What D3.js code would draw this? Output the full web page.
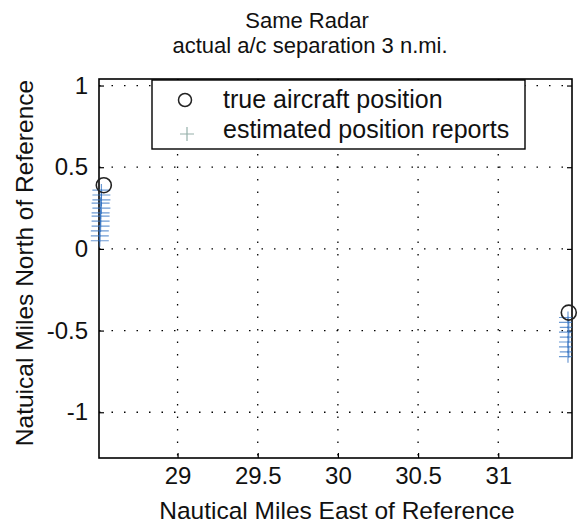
<!DOCTYPE html>
<meta charset="utf-8">
<style>
    body { margin: 0; background: #fff; }
    svg { font-family: "Liberation Sans", Arial, Helvetica, sans-serif; }
    .grid line { stroke: #000; stroke-width: 1.3; stroke-dasharray: 1.5,11; }
</style>
<body>
<script src="https://cdn.jsdelivr.net/npm/d3@7"></script>
<script>

    // axis limits and ticks
    var xLimits = [28.51, 31.46],
        yLimits = [-1.28, 1.04];
    var xTicks = [29, 29.5, 30, 30.5, 31],
        yTicks = [-1, -0.5, 0, 0.5, 1];

    // true positions of the two aircraft
    var trueX = [28.54, 31.44],
        trueY = [0.39, -0.39];

    // radar position reports, aircraft 1 then aircraft 2
    var estX = [28.525, 28.525, 28.525, 28.52, 28.525, 28.52, 28.52, 28.52, 28.52, 28.515, 28.515, 28.515,
                31.435, 31.435, 31.44, 31.435, 31.44, 31.435, 31.435, 31.44, 31.435];
    var estY = [0.36, 0.33, 0.30, 0.28, 0.25, 0.22, 0.20, 0.17, 0.14, 0.11, 0.08, 0.05,
                -0.42, -0.45, -0.48, -0.51, -0.54, -0.57, -0.60, -0.63, -0.66];

    var legendLabels = ["true aircraft position", "estimated position reports"];

    var width = 578,
        height = 526,
        margin = {top: 79, right: 6, bottom: 68, left: 99};

    var svg = d3.select("body").append("svg")
        .attr("width", width)
        .attr("height", height);

    var defs = svg.append("defs");
    defs.append("filter").attr("id", "soft")
        .attr("x", "-50%").attr("y", "-50%").attr("width", "200%").attr("height", "200%")
        .append("feGaussianBlur").attr("stdDeviation", 0.45);

    var x = d3.scaleLinear().domain(xLimits).range([margin.left, width - margin.right]);
    var y = d3.scaleLinear().domain(yLimits).range([height - margin.bottom, margin.top]);

    var x0 = x.range()[0], x1 = x.range()[1],
        y0 = y.range()[0], y1 = y.range()[1];

    // dotted grid
    var grid = svg.append("g").attr("class", "grid");
    grid.selectAll(".gx").data(xTicks).enter().append("line")
        .attr("x1", d => x(d)).attr("x2", d => x(d))
        .attr("y1", y1).attr("y2", y0);
    grid.selectAll(".gy").data(yTicks).enter().append("line")
        .attr("x1", x0).attr("x2", x1)
        .attr("y1", d => y(d)).attr("y2", d => y(d));

    // axes with inward ticks on all four sides; plain hyphen for negatives
    var tick = 5;
    var fmt = d => String(d);
    svg.append("g").attr("class", "xb").attr("transform", "translate(0," + y0 + ")")
        .call(d3.axisBottom(x).tickValues(xTicks).tickSize(-tick).tickFormat(fmt))
        .call(g => g.select(".domain").remove());
    svg.append("g").attr("transform", "translate(0," + y1 + ")")
        .call(d3.axisTop(x).tickValues(xTicks).tickSize(-tick).tickFormat(""))
        .call(g => g.select(".domain").remove());
    svg.append("g").attr("class", "yl").attr("transform", "translate(" + x0 + ",0)")
        .call(d3.axisLeft(y).tickValues(yTicks).tickSize(-tick).tickFormat(fmt))
        .call(g => g.select(".domain").remove());
    svg.append("g").attr("transform", "translate(" + x1 + ",0)")
        .call(d3.axisRight(y).tickValues(yTicks).tickSize(-tick).tickFormat(""))
        .call(g => g.select(".domain").remove());

    svg.selectAll(".tick line").attr("stroke", "#000").attr("stroke-width", 1.2);
    svg.selectAll(".tick text")
        .attr("fill", "#111")
        .style("font-size", "24px")
        .style("font-family", "'Liberation Sans', Arial, sans-serif");
    svg.selectAll(".xb .tick text").attr("y", 9);
    svg.selectAll(".yl .tick text").attr("x", -11);

    // frame
    svg.append("rect")
        .attr("x", x0).attr("y", y1)
        .attr("width", x1 - x0).attr("height", y0 - y1)
        .attr("fill", "none").attr("stroke", "#000").attr("stroke-width", 1.6);

    svg.append("clipPath").attr("id", "plotclip")
        .append("rect").attr("x", x0 - 20).attr("y", y1).attr("width", x1 - x0 + 20).attr("height", y0 - y1);

    // position reports drawn as '+' markers
    var est = d3.range(estX.length).map(i => ({x: estX[i], y: estY[i]}));
    var mw = 9, mh = 6;
    var crosses = svg.append("g").attr("clip-path", "url(#plotclip)")
        .append("g").attr("filter", "url(#soft)")
        .attr("stroke", "#2f6fc0").attr("stroke-opacity", 0.7).attr("stroke-width", 1.2);
    crosses.selectAll("path").data(est).enter().append("path")
        .attr("d", d => "M" + (x(d.x) - mw) + "," + y(d.y) + "h" + (2 * mw) +
                        "M" + x(d.x) + "," + (y(d.y) - mh) + "v" + (2 * mh));

    // true positions as open circles
    svg.append("g").selectAll("circle").data(trueX).enter().append("circle")
        .attr("cx", d => x(d)).attr("cy", (d, i) => y(trueY[i]))
        .attr("r", 7.5)
        .attr("fill", "none").attr("stroke", "#222").attr("stroke-width", 1.6);

    // legend
    var lg = svg.append("g");
    lg.append("rect")
        .attr("x", 152).attr("y", 80).attr("width", 373).attr("height", 69)
        .attr("fill", "#fff").attr("stroke", "#000").attr("stroke-width", 1.4);
    lg.append("circle").attr("cx", 185).attr("cy", 100).attr("r", 6.5)
        .attr("fill", "none").attr("stroke", "#222").attr("stroke-width", 1.5);
    lg.append("path").attr("d", "M180,134h14M187,127v14")
        .attr("stroke", "#7a9c95").attr("stroke-opacity", 0.8).attr("stroke-width", 1.2);
    lg.selectAll("text").data(legendLabels).enter().append("text")
        .attr("x", 223).attr("y", (d, i) => 108 + i * 30)
        .style("font-size", "25px").attr("fill", "#111")
        .text(d => d);

    // titles and axis labels
    svg.append("text").attr("x", 307).attr("y", 28).attr("text-anchor", "middle")
        .style("font-size", "22px").attr("fill", "#111").text("Same Radar");
    svg.append("text").attr("x", 310).attr("y", 53).attr("text-anchor", "middle")
        .style("font-size", "22px").attr("fill", "#111").text("actual a/c separation 3 n.mi.");
    svg.append("text").attr("x", 337).attr("y", 519).attr("text-anchor", "middle")
        .style("font-size", "24.5px").attr("fill", "#111").text("Nautical Miles East of Reference");
    svg.append("text").attr("transform", "translate(33,263) rotate(-90)").attr("text-anchor", "middle")
        .style("font-size", "24.5px").attr("fill", "#111").text("Natuical Miles North of Reference");

</script>
